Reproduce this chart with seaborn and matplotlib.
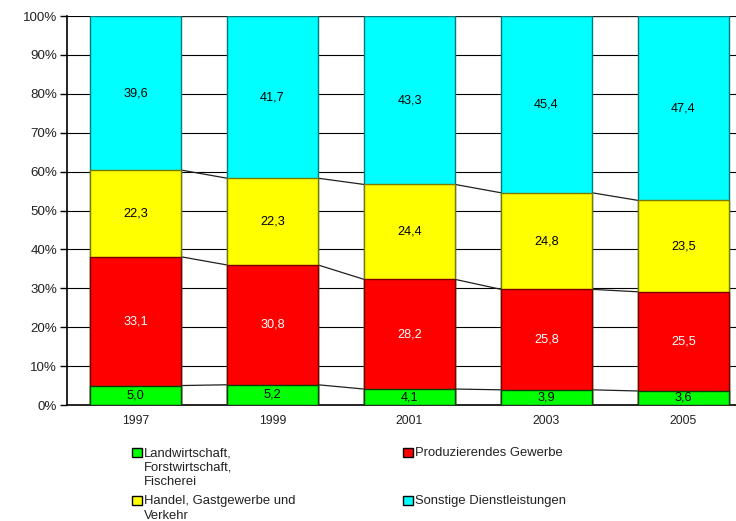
import matplotlib
matplotlib.use("Agg")
import matplotlib.pyplot as plt
from matplotlib.patches import Rectangle
import seaborn as sns
import numpy as np
import pandas as pd

years = ["1997", "1999", "2001", "2003", "2005"]
series_names = ["Landwirtschaft,\nForstwirtschaft,\nFischerei",
                "Produzierendes Gewerbe",
                "Handel, Gastgewerbe und\nVerkehr",
                "Sonstige Dienstleistungen"]
landwirtschaft = [5.0, 5.2, 4.1, 3.9, 3.6]
produzierend = [33.1, 30.8, 28.2, 25.8, 25.5]
handel = [22.3, 22.3, 24.4, 24.8, 23.5]
sonstige = [39.6, 41.7, 43.3, 45.4, 47.4]
y_ticks = [0, 10, 20, 30, 40, 50, 60, 70, 80, 90, 100]

fills = ["#00FF00", "#FF0000", "#FFFF00", "#00FFFF"]
edges = ["#004000", "#7A0000", "#7A7A00", "#007A7A"]
text_cols = ["black", "white", "black", "black"]

sns.set_style("white")
plt.rcParams["font.family"] = ["Liberation Sans", "DejaVu Sans"]

vals = np.array([landwirtschaft, produzierend, handel, sonstige], dtype=float)
vals = vals / vals.sum(axis=0) * 100.0
cum = np.cumsum(vals, axis=0)

fig = plt.figure(figsize=(7.36, 5.21), dpi=100)
W, H = 736.0, 521.0
ax = fig.add_axes([67 / W, 1 - 405 / H, 685 / W, 389 / H])

bw = 0.664
for k in range(3, -1, -1):
    df = pd.DataFrame({"year": years, "top": cum[k]})
    sns.barplot(data=df, x="year", y="top", order=years, color=fills[k],
                saturation=1, width=bw, edgecolor=edges[k], linewidth=1.0,
                ax=ax, zorder=3)

# series connector lines
for k in range(4):
    for i in range(len(years) - 1):
        ax.plot([i + bw / 2, i + 1 - bw / 2], [cum[k][i], cum[k][i + 1]],
                color="#202020", lw=0.9, zorder=2)

# labels
raw_series = [landwirtschaft, produzierend, handel, sonstige]
for k in range(4):
    bottoms = cum[k] - vals[k]
    for i in range(len(years)):
        raw = raw_series[k][i]
        ax.text(i, bottoms[i] + vals[k][i] / 2, f"{raw:.1f}".replace(".", ","),
                ha="center", va="center", fontsize=9.2, color=text_cols[k],
                zorder=5)

ax.set_xlim(-0.5, 4.5)
ax.set_ylim(0, 100)
ax.set_yticks(y_ticks)
ax.set_yticklabels([f"{t}%" for t in y_ticks], fontsize=9.6, color="#222222")
ax.yaxis.grid(True, color="black", lw=0.8, zorder=0)
ax.set_axisbelow(True)
ax.set_xlabel("")
ax.set_ylabel("")
ax.set_xticks(range(len(years)))
ax.set_xticklabels(years, fontsize=8.8, color="#222222")
ax.tick_params(axis="x", length=0, pad=7)
ax.set_xticks([0.5, 1.5, 2.5, 3.5], minor=True)
ax.tick_params(axis="x", which="minor", length=4, width=1, color="black", direction="out")
ax.tick_params(axis="y", length=5, width=1, color="black", direction="out", pad=2, left=True)
for s in ["top", "right"]:
    ax.spines[s].set_visible(False)
for s in ["left", "bottom"]:
    ax.spines[s].set_color("black")
    ax.spines[s].set_linewidth(1.2)

# legend (manual, two columns)
def fx(px):
    return px / W

def fy(py):
    return 1 - py / H

entries = [(0, 132, 448), (1, 403, 448), (2, 132, 496), (3, 403, 496)]
for k, x0, y0 in entries:
    fig.patches.append(Rectangle((fx(x0), fy(y0 + 9)), 10 / W, 9 / H,
                                 transform=fig.transFigure, facecolor=fills[k],
                                 edgecolor="black", lw=1.0))
    fig.text(fx(x0 + 12), fy(y0 - 1), series_names[k], ha="left", va="top",
             fontsize=9.4, color="#222222", linespacing=1.3)

fig.savefig("out.png", dpi=100)
